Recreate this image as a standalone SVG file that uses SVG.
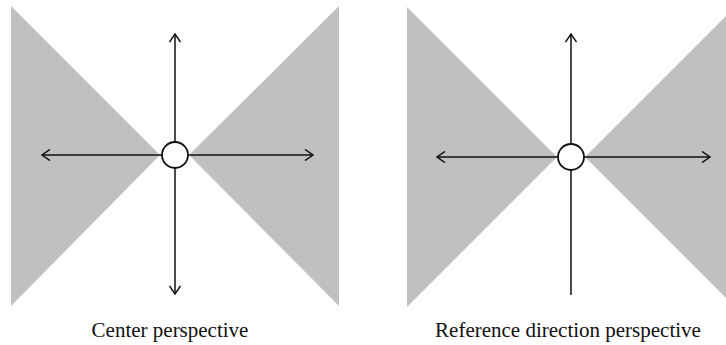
<svg xmlns="http://www.w3.org/2000/svg" width="726" height="345" viewBox="0 0 726 345">
  <style>
    .sector { fill: #c0c0c0; stroke: none; }
    .axis { stroke: #111; stroke-width: 1.5; fill: none; }
    .node { fill: #fff; stroke: #111; stroke-width: 1.8; }
    .label { font-family: "Liberation Serif", "Times New Roman", serif; font-size: 21px; fill: #111; text-anchor: middle; }
  </style>
  <defs>
    <marker id="arrow" viewBox="0 0 10 12" refX="9" refY="6" markerWidth="10" markerHeight="12" markerUnits="userSpaceOnUse" orient="auto">
      <path d="M1,0.5 L9,6 L1,11.5" fill="none" stroke="#111" stroke-width="1.5"/>
    </marker>
  </defs>
  <rect width="726" height="345" fill="#fff"/>

  <!-- Left panel: center perspective -->
  <g id="center-sectors">
    <polygon class="sector" points="11,6 11,306 160,155"/>
    <polygon class="sector" points="339,6 339,306 189,155"/>
  </g>
  <g id="center-connectors">
    <line class="axis" x1="175" y1="142" x2="175" y2="34" marker-end="url(#arrow)"/>
    <line class="axis" x1="175" y1="168" x2="175" y2="294" marker-end="url(#arrow)"/>
    <line class="axis" x1="162" y1="155" x2="42" y2="155" marker-end="url(#arrow)"/>
    <line class="axis" x1="188" y1="155" x2="313" y2="155" marker-end="url(#arrow)"/>
  </g>
  <g id="center-node">
    <circle class="node" cx="175" cy="155" r="13"/>
  </g>
  <text class="label" x="170" y="337">Center perspective</text>

  <!-- Right panel: reference direction perspective -->
  <g id="reference-sectors">
    <polygon class="sector" points="407,7 407,307 557,157"/>
    <polygon class="sector" points="735,7 735,307 585,157"/>
  </g>
  <g id="reference-connectors">
    <line class="axis" x1="571" y1="144" x2="571" y2="34" marker-end="url(#arrow)"/>
    <line class="axis" x1="571" y1="170" x2="571" y2="295"/>
    <line class="axis" x1="558" y1="157" x2="437" y2="157" marker-end="url(#arrow)"/>
    <line class="axis" x1="584" y1="157" x2="710" y2="157" marker-end="url(#arrow)"/>
  </g>
  <g id="reference-node">
    <circle class="node" cx="571" cy="157" r="13"/>
  </g>
  <text class="label" x="568" y="337">Reference direction perspective</text>
</svg>
